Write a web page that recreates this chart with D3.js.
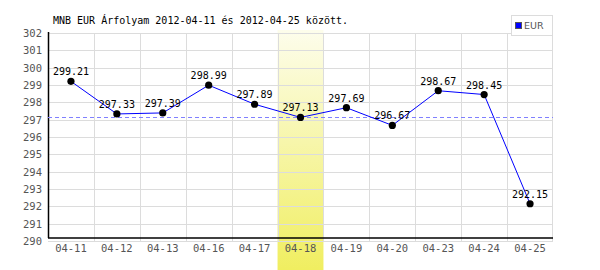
<!DOCTYPE html>
<html><head><meta charset="utf-8">
<script src="https://cdn.jsdelivr.net/npm/d3@7"></script>
<style>body{margin:0;background:#fff}svg{display:block}</style>
</head><body>
<script>
const titleText = "MNB EUR Árfolyam 2012-04-11 és 2012-04-25 között.";
const categories = ["04-11","04-12","04-13","04-16","04-17","04-18","04-19","04-20","04-23","04-24","04-25"];
const values = [299.21,297.33,297.39,298.99,297.89,297.13,297.69,296.67,298.67,298.45,292.15];
const labels = ["299.21","297.33","297.39","298.99","297.89","297.13","297.69","296.67","298.67","298.45","292.15"];
const yTicks = [290,291,292,293,294,295,296,297,298,299,300,301,302];
const highlightCat = "04-18";
const refValue = 297.13;
const seriesName = "EUR";

const W=600,H=270;
const svg=d3.select("body").append("svg").attr("width",W).attr("height",H);
const defs=svg.append("defs");
const g=defs.append("linearGradient").attr("id","hl").attr("x1",0).attr("y1",0).attr("x2",0).attr("y2",1);
g.append("stop").attr("offset","0%").attr("stop-color","#fdfdec");
g.append("stop").attr("offset","100%").attr("stop-color","#f0ee60");

const x=d3.scaleBand().domain(categories).range([48,553]).padding(0);
const y=d3.scaleLinear().domain([290,302]).range([241,33]);

// highlight band
svg.append("rect").attr("x",x(highlightCat)).attr("y",30).attr("width",x.bandwidth()).attr("height",H-30).attr("fill","url(#hl)");

// grid
svg.append("g").selectAll("line").data(yTicks).join("line")
 .attr("x1",48).attr("x2",553).attr("y1",d=>Math.round(y(d))+0.5).attr("y2",d=>Math.round(y(d))+0.5)
 .attr("stroke","#dcdcdc").attr("stroke-width",1);
svg.append("g").selectAll("line").data(categories.slice(1)).join("line")
 .attr("x1",d=>Math.round(x(d))+0.5).attr("x2",d=>Math.round(x(d))+0.5).attr("y1",33).attr("y2",241)
 .attr("stroke","#dcdcdc").attr("stroke-width",1);
svg.append("line").attr("x1",552.5).attr("x2",552.5).attr("y1",15).attr("y2",241).attr("stroke","#dcdcdc");

// axes lines
svg.append("line").attr("x1",48.5).attr("x2",48.5).attr("y1",32).attr("y2",238).attr("stroke","#000").attr("stroke-width",1.5);
svg.append("line").attr("x1",48).attr("x2",553).attr("y1",238).attr("y2",238).attr("stroke","#000").attr("stroke-width",1.5);

// ref dashed line
svg.append("line").attr("x1",48).attr("x2",553).attr("y1",Math.round(y(refValue))+0.5).attr("y2",Math.round(y(refValue))+0.5)
 .attr("stroke","#8080ff").attr("stroke-dasharray","4,3");

// y labels
svg.append("g").selectAll("text").data(yTicks).join("text")
 .attr("x",42).attr("y",d=>y(d)+4).attr("text-anchor","end")
 .attr("font-family","DejaVu Sans Mono").attr("font-size",10.5).attr("fill","#555").text(d=>d);
// x labels
svg.append("g").selectAll("text").data(categories).join("text")
 .attr("x",d=>x(d)+x.bandwidth()/2).attr("y",252).attr("text-anchor","middle")
 .attr("font-family","DejaVu Sans Mono").attr("font-size",10.5).attr("fill","#555").text(d=>d);

// line
const line=d3.line().x((d,i)=>x(categories[i])+x.bandwidth()/2).y(d=>y(d));
svg.append("path").datum(values).attr("d",line).attr("fill","none").attr("stroke","#0000ff").attr("stroke-width",1);
svg.append("g").selectAll("circle").data(values).join("circle")
 .attr("cx",(d,i)=>x(categories[i])+x.bandwidth()/2).attr("cy",d=>y(d)).attr("r",3.6).attr("fill","#000");
svg.append("g").selectAll("text").data(values).join("text")
 .attr("x",(d,i)=>x(categories[i])+x.bandwidth()/2).attr("y",d=>y(d)-6).attr("text-anchor","middle")
 .attr("font-family","DejaVu Sans Mono").attr("font-size",10).attr("fill","#000").text((d,i)=>labels[i]);

// title
svg.append("text").attr("x",53).attr("y",24).attr("font-family","DejaVu Sans Mono").attr("font-size",10).attr("fill","#000").text(titleText);

// legend
svg.append("rect").attr("x",511.5).attr("y",15.5).attr("width",41).attr("height",20).attr("fill","#fff").attr("stroke","#dcdcdc");
svg.append("rect").attr("x",515.5).attr("y",22.5).attr("width",6).attr("height",6).attr("fill","#0000ff").attr("stroke","#555");
svg.append("text").attr("x",524).attr("y",29).attr("font-family","DejaVu Sans").attr("font-size",9.5).attr("fill","#555").text(seriesName);
</script>
</body></html>
